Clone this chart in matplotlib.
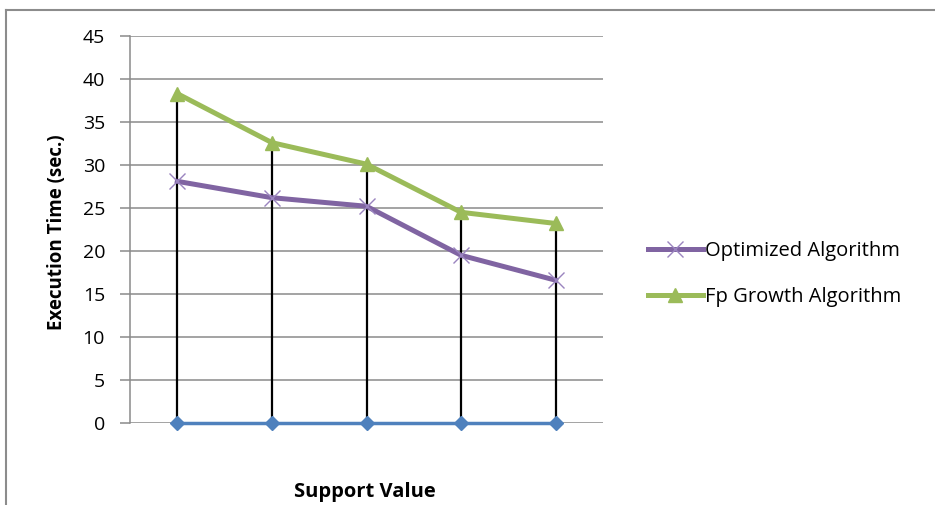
import matplotlib
matplotlib.use("Agg")
import matplotlib.pyplot as plt
from matplotlib.lines import Line2D

# Data
support_values = ["1", "2", "3", "4", "5"]
optimized = [28.1, 26.2, 25.2, 19.5, 16.6]
fp_growth = [38.3, 32.6, 30.1, 24.5, 23.2]
baseline = [0, 0, 0, 0, 0]
y_ticks = [0, 5, 10, 15, 20, 25, 30, 35, 40, 45]

W, H = 935, 505
fig = plt.figure(figsize=(W / 100, H / 100), dpi=100)
fig.patch.set_facecolor("white")

# chart frame
fig.add_artist(Line2D([6 / W, 6 / W], [0, 1 - 10 / H], transform=fig.transFigure,
                      color="#8c8c8c", lw=1.5))
fig.add_artist(Line2D([6 / W, 1], [1 - 10 / H, 1 - 10 / H], transform=fig.transFigure,
                      color="#8c8c8c", lw=1.5))

left, right, top, bottom = 130, 603, 36, 423
ax = fig.add_axes([left / W, 1 - bottom / H, (right - left) / W, (bottom - top) / H])

x = list(range(len(support_values)))
ax.set_xlim(-0.5, len(x) - 0.5)
ax.set_ylim(0, 45)

grid_c = "#8a8a8a"
ax.set_yticks(y_ticks)
ax.yaxis.grid(True, color=grid_c, lw=1.1)
ax.set_axisbelow(True)
for s in ["top", "right", "bottom"]:
    ax.spines[s].set_visible(False)
ax.spines["left"].set_color(grid_c)
ax.spines["left"].set_linewidth(1.1)
ax.tick_params(axis="y", direction="out", length=7, width=1.1, color=grid_c,
               labelsize=14, pad=11, labelcolor="black")
ax.set_xticks([])

# drop lines from zero up to the highest series
tops = [max(a, b) for a, b in zip(optimized, fp_growth)]
ax.vlines(x, baseline, tops, color="black", lw=1.6, zorder=2)

ax.plot(x, baseline, color="#4F81BD", lw=2.5, marker="D", markersize=7,
        clip_on=False, zorder=4)
l1, = ax.plot(x, optimized, color="#8064A2", lw=3.6, marker="x", markersize=11,
              markeredgewidth=1.0, markeredgecolor="#9a84bf", clip_on=False, zorder=3,
              label="Optimized Algorithm")
l2, = ax.plot(x, fp_growth, color="#9BBB59", lw=3.6, marker="^", markersize=10,
              clip_on=False, zorder=3, label="Fp Growth Algorithm")

font = ["Open Sans", "DejaVu Sans"]
for t in ax.get_yticklabels():
    t.set_fontfamily(font)

fig.text(57 / W, 1 - 232 / H, "Execution Time (sec.)", fontsize=13.5,
         fontweight="bold", fontfamily=font, rotation=90, ha="center", va="center")
fig.text(365 / W, 1 - 492 / H, "Support Value", fontsize=14.5,
         fontweight="bold", fontfamily=font, ha="center", va="center")

leg = fig.legend(handles=[l1, l2], loc="center left",
                 bbox_to_anchor=(630 / W, 1 - 274 / H), frameon=False,
                 prop={"family": font, "size": 14.5}, handlelength=2.7,
                 handletextpad=0.1, labelspacing=1.25, numpoints=1)

fig.savefig("out.png", dpi=100, facecolor="white")
